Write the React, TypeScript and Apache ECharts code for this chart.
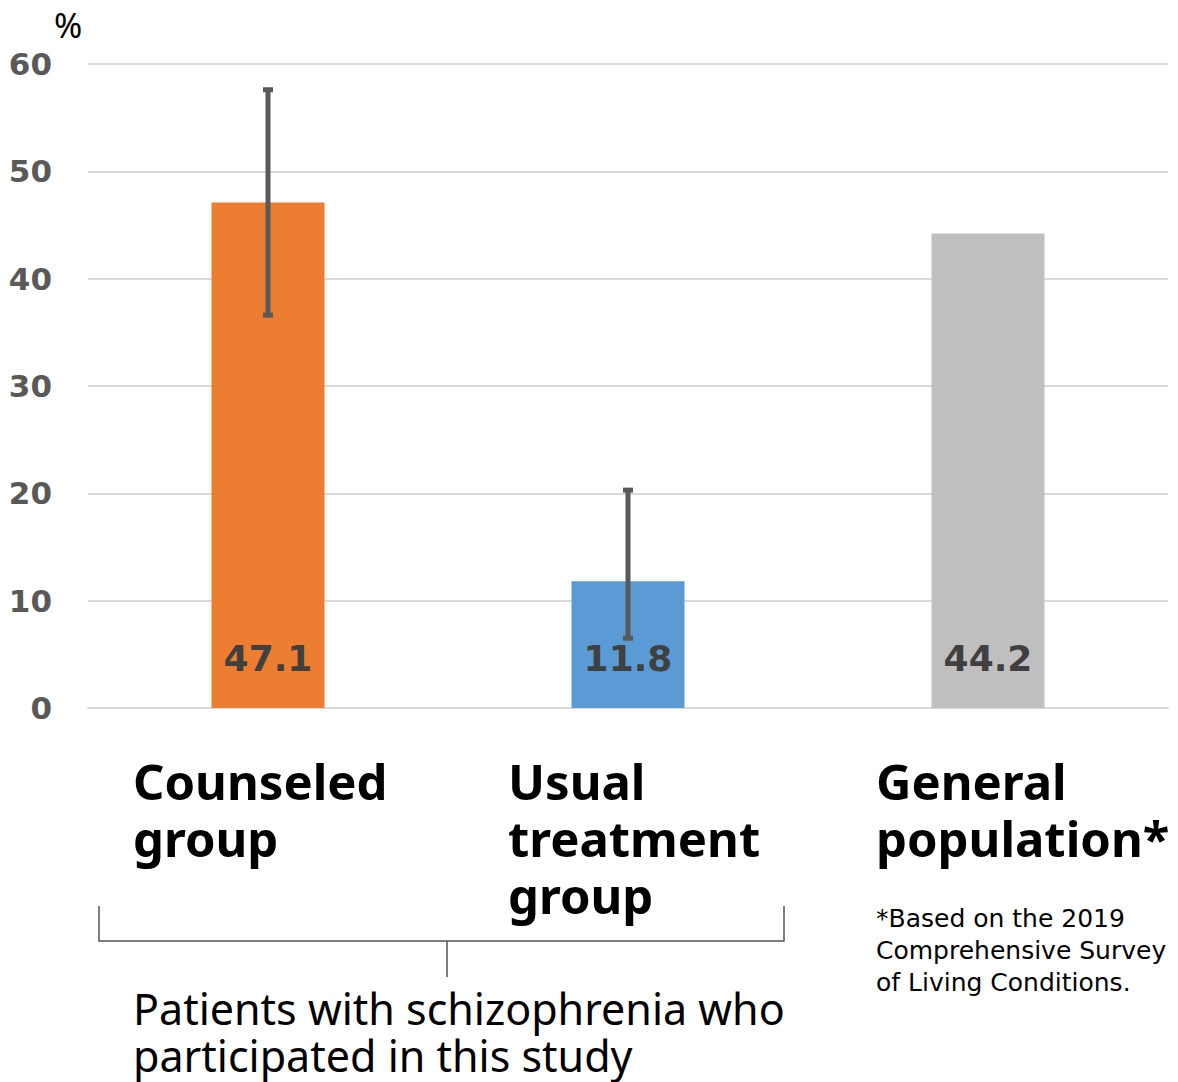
import React, { useEffect, useRef } from "react";
import * as echarts from "echarts";

const categories = ["Counseled group", "Usual treatment group", "General population*"];
const categoryLines = [["Counseled", "group"], ["Usual", "treatment", "group"], ["General", "population*"]];
const values = [47.1, 11.8, 44.2];
const barColors = ["#ED7D31", "#5B9BD5", "#BFBFBF"];
const errorLow = [36.6, 6.5, null];
const errorHigh = [57.6, 20.3, null];
const yTicks = { min: 0, max: 60, interval: 10 };
const footnoteLines = ["*Based on the 2019", "Comprehensive Survey", "of Living Conditions."];
const groupCaption = ["Patients with schizophrenia who", "participated in this study"];

export default function App() {
  const ref = useRef<HTMLDivElement>(null);
  useEffect(() => {
    document.body.style.margin = "0";
    const chart = echarts.init(ref.current!, null, { renderer: "svg" });
    const labelX = [133, 508, 876];
    const graphics: any[] = [];
    categoryLines.forEach((lines, i) => {
      lines.forEach((line, j) => {
        graphics.push({
          type: "text",
          left: labelX[i],
          top: 755 + j * 57,
          style: {
            text: line,
            font: "bold 49px 'Noto Sans'",
            fill: "#000",
            lineHeight: 52,
          },
        });
      });
    });
    graphics.push({
      type: "text",
      left: 54,
      top: 7,
      style: { text: "%", font: "34px 'Noto Sans'", fill: "#000", lineHeight: 36 },
    });
    footnoteLines.forEach((line, j) => {
      graphics.push({
        type: "text",
        left: 876,
        top: 903 + j * 32,
        style: { text: line, font: "25px 'DejaVu Sans'", fill: "#000", lineHeight: 30 },
      });
    });
    groupCaption.forEach((line, j) => {
      graphics.push({
        type: "text",
        left: 133,
        top: 986 + j * 47,
        style: { text: line, font: "43px 'Noto Sans'", fill: "#000", lineHeight: 44 },
      });
    });
    graphics.push({
      type: "polyline",
      shape: { points: [[99, 906], [99, 941], [784, 941], [784, 906]] },
      style: { stroke: "#555", lineWidth: 1.5, fill: null },
    });
    graphics.push({
      type: "line",
      shape: { x1: 447, y1: 941, x2: 447, y2: 977 },
      style: { stroke: "#555", lineWidth: 1.5 },
    });

    chart.setOption({
      animation: false,
      grid: { left: 88, right: 10, top: 64, bottom: 374 },
      xAxis: {
        type: "category",
        data: categories,
        axisLine: { lineStyle: { color: "#d9d9d9", width: 2 } },
        axisTick: { show: false },
        axisLabel: { show: false },
      },
      yAxis: {
        type: "value",
        min: yTicks.min,
        max: yTicks.max,
        interval: yTicks.interval,
        axisLine: { show: false },
        axisTick: { show: false },
        splitLine: { lineStyle: { color: "#d9d9d9", width: 2 } },
        axisLabel: {
          color: "#595959",
          fontWeight: "bold",
          fontFamily: "DejaVu Sans",
          fontSize: 31,
          margin: 36,
        },
      },
      series: [
        {
          type: "bar",
          barWidth: 113,
          data: values.map((v, i) => ({ value: v, itemStyle: { color: barColors[i] } })),
          label: {
            show: true,
            position: "insideBottom",
            distance: 32,
            color: "#404040",
            fontWeight: "bold",
            fontFamily: "DejaVu Sans",
            fontSize: 36,
          },
          z: 2,
        },
        {
          type: "custom",
          z: 3,
          data: categories.map((c, i) => [i, errorLow[i], errorHigh[i]]),
          renderItem: (params: any, api: any) => {
            const lo = api.value(1);
            const hi = api.value(2);
            if (lo == null || hi == null || isNaN(lo) || isNaN(hi)) return null;
            const p1 = api.coord([api.value(0), lo]);
            const p2 = api.coord([api.value(0), hi]);
            const x = p1[0];
            const st = { stroke: "#595959", lineWidth: 5 };
            return {
              type: "group",
              children: [
                { type: "line", shape: { x1: x, y1: p1[1], x2: x, y2: p2[1] }, style: st },
                { type: "line", shape: { x1: x - 5, y1: p1[1], x2: x + 5, y2: p1[1] }, style: st },
                { type: "line", shape: { x1: x - 5, y1: p2[1], x2: x + 5, y2: p2[1] }, style: st },
              ],
            };
          },
        },
      ],
      graphic: graphics,
    });
    return () => chart.dispose();
  }, []);
  return <div ref={ref} style={{ width: 1178, height: 1082 }} />;
}
